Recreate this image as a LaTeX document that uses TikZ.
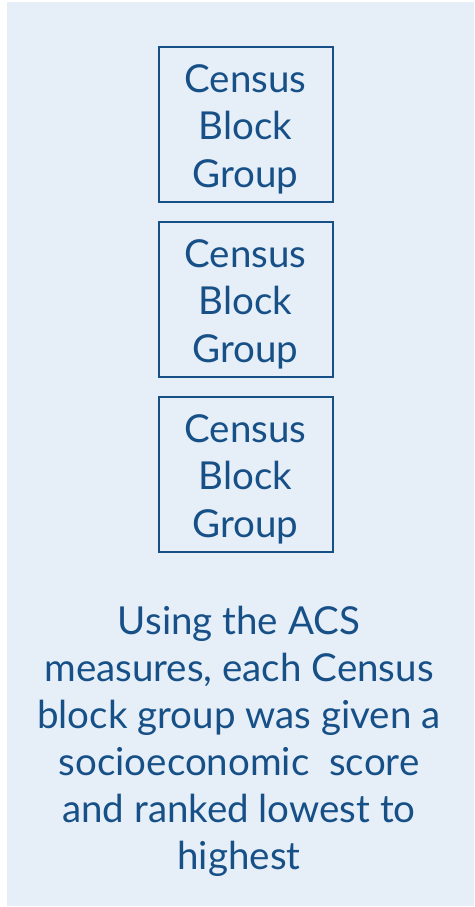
\documentclass[tikz,border=0pt]{standalone}
\usepackage{fontspec}
\setmainfont{Lato}
\usetikzlibrary{positioning}
\definecolor{panelbg}{RGB}{230,238,248}
\definecolor{navy}{RGB}{22,80,135}
\newcommand{\cbgtext}{\rule{0pt}{37pt}Census\\Block\\Group}
\begin{document}
\begin{tikzpicture}[x=1pt, y=-1pt,
  cbg/.style={rectangle, draw=navy, line width=2pt, minimum width=174pt, minimum height=155pt, inner sep=0pt, align=center, text=navy, font=\fontsize{38.5}{47.5}\selectfont}]
  \useasboundingbox (0,0) rectangle (474,907);
  % Background
  \fill[panelbg] (7,2) rectangle (474,906);
  % Nodes
  \node (cbg1) [cbg] at (245.5,124.5) {\cbgtext};
  \node (cbg2) [cbg, below=18pt of cbg1] {\cbgtext};
  \node (cbg3) [cbg, below=18pt of cbg2] {\cbgtext};
  \node (summary) [anchor=north, align=center, text=navy, inner sep=0pt, font=\fontsize{38.5}{47}\selectfont] at (239,606) {Using the ACS\\measures, each Census\\block group was given a\\socioeconomic\ \ score\\and ranked lowest to\\highest};
\end{tikzpicture}
\end{document}
